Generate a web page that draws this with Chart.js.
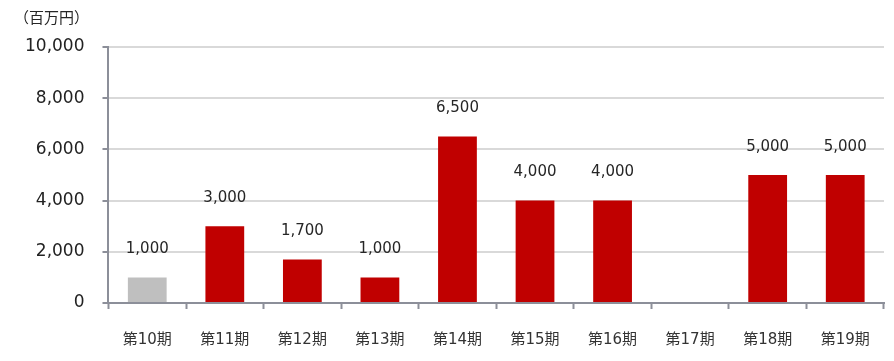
<!DOCTYPE html>
<html>
<head>
<meta charset="utf-8">
<script src="https://cdn.jsdelivr.net/npm/chart.js@4"></script>
<style>
  html, body { margin: 0; padding: 0; background: #fff; }
  #wrap { width: 894px; height: 361px; }
</style>
</head>
<body>
<div id="wrap"><canvas id="barChart"></canvas></div>
<script>
var periods = ['第10期', '第11期', '第12期', '第13期', '第14期', '第15期', '第16期', '第17期', '第18期', '第19期'];
var amounts = [1000, 3000, 1700, 1000, 6500, 4000, 4000, null, 5000, 5000];
var yTicks = [0, 2000, 4000, 6000, 8000, 10000];
var unitLabel = '（百万円）';

var numFont = '"DejaVu Sans", "Noto Sans CJK JP", sans-serif';

// value labels above bars + unit caption
var labelsPlugin = {
    id: 'valueLabels',
    afterDatasetsDraw: function (chart) {
        var ctx = chart.ctx;
        var meta = chart.getDatasetMeta(0);
        ctx.save();
        ctx.fillStyle = '#262626';
        ctx.font = '15px ' + numFont;
        ctx.textAlign = 'center';
        ctx.textBaseline = 'middle';
        meta.data.forEach(function (bar, i) {
            if (amounts[i] == null) return;
            ctx.fillText(amounts[i].toLocaleString('en-US'), bar.x, bar.y - 28);
        });
        ctx.font = '15px "Noto Sans CJK JP", sans-serif';
        ctx.textAlign = 'left';
        ctx.fillText(unitLabel, 14, 17);
        ctx.restore();
    }
};

var ctx = document.getElementById('barChart').getContext('2d');
var myChart = new Chart(ctx, {
    type: 'bar',
    data: {
        labels: periods,
        datasets: [{
            data: amounts,
            backgroundColor: amounts.map(function (v, i) { return i === 0 ? '#bfbfbf' : '#c00000'; }),
            borderWidth: 0,
            categoryPercentage: 1,
            barPercentage: 0.5
        }]
    },
    options: {
        responsive: true,
        maintainAspectRatio: false,
        animation: false,
        layout: { padding: { top: 47, right: 10, left: 7, bottom: 12 } },
        plugins: {
            legend: { display: false },
            tooltip: { enabled: false }
        },
        scales: {
            x: {
                afterFit: function (axis) { axis.height = 46; },
                grid: {
                    drawOnChartArea: false,
                    drawTicks: true,
                    tickLength: 6,
                    tickColor: '#8c8f99',
                    tickWidth: 2
                },
                border: { color: '#8c8f99', width: 2 },
                ticks: {
                    color: '#333',
                    padding: 22,
                    maxRotation: 0,
                    font: { size: 15, family: numFont }
                }
            },
            y: {
                min: 0,
                max: 10000,
                afterBuildTicks: function (axis) {
                    axis.ticks = yTicks.map(function (v) { return { value: v }; });
                },
                grid: {
                    color: '#d9d9d9',
                    lineWidth: 2,
                    tickLength: 6,
                    tickColor: '#8c8f99',
                    tickWidth: 2
                },
                border: { color: '#8c8f99', width: 2 },
                ticks: {
                    color: '#222',
                    padding: 18,
                    font: { size: 17, family: numFont },
                    callback: function (v) { return v.toLocaleString('en-US'); }
                }
            }
        }
    },
    plugins: [labelsPlugin]
});
</script>
</body>
</html>
